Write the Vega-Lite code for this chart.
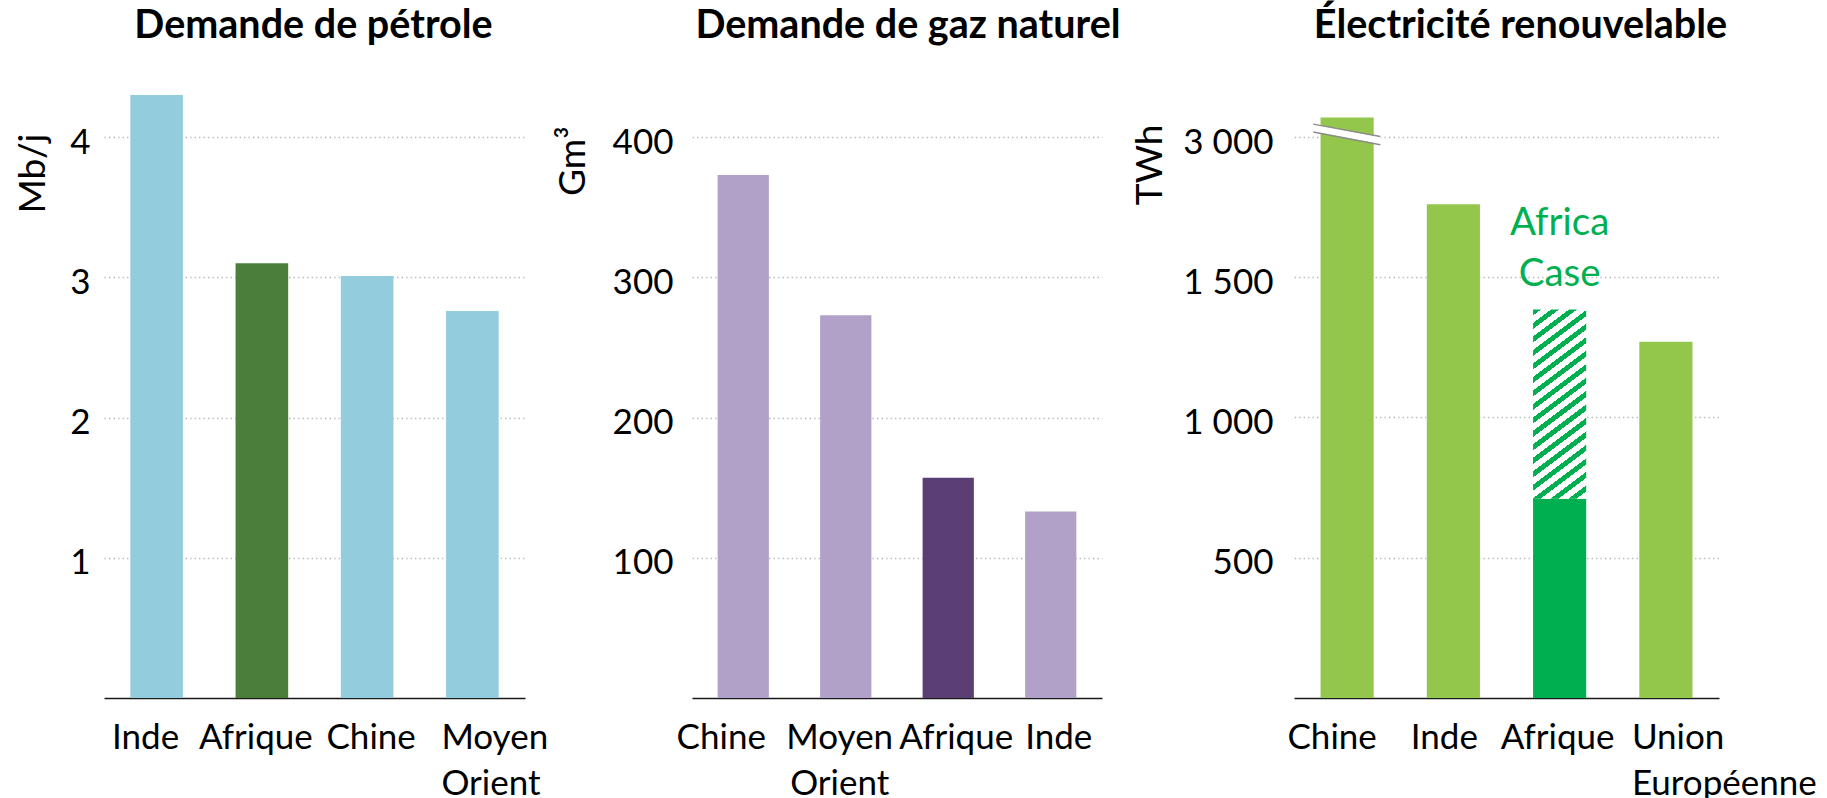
{
  "$schema": "https://vega.github.io/schema/vega-lite/v6.json",
  "padding": {"left": 14, "top": 5, "right": 0, "bottom": 0},
  "background": "white",
  "bounds": "flush",
  "spacing": 167,
  "config": {
    "view": {"stroke": null},
    "font": "Lato",
    "title": {"font": "Lato", "fontSize": 39.5, "fontWeight": "bold", "color": "#000000", "baseline": "alphabetic", "offset": 42, "anchor": "middle"},
    "axis": {"labelFont": "Lato", "titleFont": "Lato", "labelColor": "#000000", "titleColor": "#000000", "labelFontSize": 35, "titleFontSize": 37, "titleFontWeight": "normal", "ticks": false, "tickSize": 0, "labelOverlap": false, "labelFlush": false, "labelBound": false, "labelLimit": 0},
    "axisX": {"domain": true, "domainColor": "#1a1a1a", "domainWidth": 1.5, "grid": false, "labelAngle": 0, "labelBaseline": "alphabetic", "labelPadding": 50, "labelLineHeight": 46},
    "axisY": {"domain": false, "grid": true, "gridColor": "#BFBFBF", "gridDash": [1.5, 3], "gridWidth": 1.5, "labelBaseline": "alphabetic", "labelOffset": 16, "labelAlign": "right", "titleAlign": "right", "titleBaseline": "alphabetic", "titleAngle": 270}
  },
  "hconcat": [
    {
      "width": 421,
      "height": 610,
      "title": {"text": "Demande de pétrole", "dx": -1},
      "data": {"values": [
        {"pays": "Inde", "valeur": 4.30},
        {"pays": "Afrique", "valeur": 3.10},
        {"pays": "Chine", "valeur": 3.01},
        {"pays": "Moyen Orient", "valeur": 2.76}
      ]},
      "mark": {"type": "bar"},
      "encoding": {
        "x": {"field": "pays", "type": "nominal", "sort": null, "title": null,
          "scale": {"paddingInner": 0.5, "paddingOuter": 0.25},
          "axis": {"labelExpr": "split(datum.label, ' ')",
            "labelOffset": {"condition": [
              {"test": "datum.value === 'Inde'", "value": -11},
              {"test": "datum.value === 'Afrique'", "value": -6},
              {"test": "datum.value === 'Chine'", "value": 4}], "value": -31},
            "labelAlign": {"condition": {"test": "datum.value === 'Moyen Orient'", "value": "left"}, "value": "center"}}},
        "y": {"field": "valeur", "type": "quantitative", "title": "Mb/j",
          "scale": {"domain": [0, 4.35], "nice": false},
          "axis": {"values": [1, 2, 3, 4], "labelPadding": 14, "titleX": -60, "titleY": 45}},
        "color": {"condition": {"test": "datum.pays === 'Afrique'", "value": "#4B7E3B"}, "value": "#93CDDD"}
      }
    },
    {
      "bounds": "flush",
      "spacing": 192,
      "hconcat": [
        {
          "width": 410,
          "height": 610,
          "title": {"text": "Demande de gaz naturel", "dx": 11},
          "data": {"values": [
            {"pays": "Chine", "valeur": 373},
            {"pays": "Moyen Orient", "valeur": 273},
            {"pays": "Afrique", "valeur": 157},
            {"pays": "Inde", "valeur": 133}
          ]},
          "mark": {"type": "bar"},
          "encoding": {
            "x": {"field": "pays", "type": "nominal", "sort": null, "title": null,
              "scale": {"paddingInner": 0.5, "paddingOuter": 0.25},
              "axis": {"labelExpr": "split(datum.label, ' ')",
                "labelOffset": {"condition": [
                  {"test": "datum.value === 'Chine'", "value": -22},
                  {"test": "datum.value === 'Moyen Orient'", "value": -6}], "value": 8}}},
            "y": {"field": "valeur", "type": "quantitative", "title": "Gm³",
              "scale": {"domain": [0, 435], "nice": false},
              "axis": {"values": [100, 200, 300, 400], "labelPadding": 19, "titleX": -108, "titleY": 38}},
            "color": {"condition": {"test": "datum.pays === 'Afrique'", "value": "#5A3E74"}, "value": "#B1A0C7"}
          }
        },
        {
          "width": 425,
          "height": 610,
          "title": {"text": "Électricité renouvelable", "dx": 14},
          "data": {"values": [
            {"pays": "Chine", "debut": 0, "fin": 3070, "scenario": "Stated Policies", "note": ""},
            {"pays": "Inde", "debut": 0, "fin": 1760, "scenario": "Stated Policies", "note": ""},
            {"pays": "Afrique", "debut": 0, "fin": 710, "scenario": "Stated Policies", "note": ""},
            {"pays": "Afrique", "debut": 710, "fin": 1385, "scenario": "Africa Case", "note": "Africa\nCase"},
            {"pays": "Union Européenne", "debut": 0, "fin": 1270, "scenario": "Stated Policies", "note": ""}
          ]},
          "layer": [
            {
              "transform": [{"filter": "datum.scenario !== 'Africa Case'"}],
              "mark": {"type": "bar"},
              "encoding": {
                "x": {"field": "pays", "type": "nominal", "title": null,
                  "scale": {"domain": ["Chine", "Inde", "Afrique", "Union Européenne"], "paddingInner": 0.5, "paddingOuter": 0.25},
                  "axis": {"labelExpr": "split(datum.label, ' ')",
                    "labelOffset": {"condition": [
                      {"test": "datum.value === 'Chine'", "value": -15},
                      {"test": "datum.value === 'Inde'", "value": -9},
                      {"test": "datum.value === 'Afrique'", "value": -2}], "value": -34},
                    "labelAlign": {"condition": {"test": "datum.value === 'Union Européenne'", "value": "left"}, "value": "center"}}},
                "y": {"field": "fin", "type": "quantitative", "title": "TWh",
                  "scale": {"type": "linear", "domain": [0, 1900, 3000, 3300], "range": [610, 77, 49, -35], "nice": false, "zero": false},
                  "axis": {"values": [500, 1000, 1500, 3000], "labelExpr": "replace(format(datum.value, ','), ',', ' ')", "labelPadding": 21, "titleX": -133, "titleY": 36}},
                "y2": {"field": "debut"},
                "color": {"condition": {"test": "datum.pays === 'Afrique'", "value": "#00B050"}, "value": "#92C74B"}
              }
            },
            {
              "transform": [{"filter": "datum.scenario === 'Africa Case'"}],
              "mark": {"type": "bar", "color": {"gradient": "linear", "x1": 0, "y1": 0, "x2": 0.2439, "y2": 1.1591, "stops": [
                {"offset": 0, "color": "#00B050"}, {"offset": 0.0265, "color": "#00B050"}, {"offset": 0.0265, "color": "#FFFFFF"}, {"offset": 0.0588, "color": "#FFFFFF"},
                {"offset": 0.0588, "color": "#00B050"}, {"offset": 0.0853, "color": "#00B050"}, {"offset": 0.0853, "color": "#FFFFFF"}, {"offset": 0.1176, "color": "#FFFFFF"},
                {"offset": 0.1176, "color": "#00B050"}, {"offset": 0.1441, "color": "#00B050"}, {"offset": 0.1441, "color": "#FFFFFF"}, {"offset": 0.1765, "color": "#FFFFFF"},
                {"offset": 0.1765, "color": "#00B050"}, {"offset": 0.2029, "color": "#00B050"}, {"offset": 0.2029, "color": "#FFFFFF"}, {"offset": 0.2353, "color": "#FFFFFF"},
                {"offset": 0.2353, "color": "#00B050"}, {"offset": 0.2618, "color": "#00B050"}, {"offset": 0.2618, "color": "#FFFFFF"}, {"offset": 0.2941, "color": "#FFFFFF"},
                {"offset": 0.2941, "color": "#00B050"}, {"offset": 0.3206, "color": "#00B050"}, {"offset": 0.3206, "color": "#FFFFFF"}, {"offset": 0.3529, "color": "#FFFFFF"},
                {"offset": 0.3529, "color": "#00B050"}, {"offset": 0.3794, "color": "#00B050"}, {"offset": 0.3794, "color": "#FFFFFF"}, {"offset": 0.4118, "color": "#FFFFFF"},
                {"offset": 0.4118, "color": "#00B050"}, {"offset": 0.4382, "color": "#00B050"}, {"offset": 0.4382, "color": "#FFFFFF"}, {"offset": 0.4706, "color": "#FFFFFF"},
                {"offset": 0.4706, "color": "#00B050"}, {"offset": 0.4971, "color": "#00B050"}, {"offset": 0.4971, "color": "#FFFFFF"}, {"offset": 0.5294, "color": "#FFFFFF"},
                {"offset": 0.5294, "color": "#00B050"}, {"offset": 0.5559, "color": "#00B050"}, {"offset": 0.5559, "color": "#FFFFFF"}, {"offset": 0.5882, "color": "#FFFFFF"},
                {"offset": 0.5882, "color": "#00B050"}, {"offset": 0.6147, "color": "#00B050"}, {"offset": 0.6147, "color": "#FFFFFF"}, {"offset": 0.6471, "color": "#FFFFFF"},
                {"offset": 0.6471, "color": "#00B050"}, {"offset": 0.6735, "color": "#00B050"}, {"offset": 0.6735, "color": "#FFFFFF"}, {"offset": 0.7059, "color": "#FFFFFF"},
                {"offset": 0.7059, "color": "#00B050"}, {"offset": 0.7324, "color": "#00B050"}, {"offset": 0.7324, "color": "#FFFFFF"}, {"offset": 0.7647, "color": "#FFFFFF"},
                {"offset": 0.7647, "color": "#00B050"}, {"offset": 0.7912, "color": "#00B050"}, {"offset": 0.7912, "color": "#FFFFFF"}, {"offset": 0.8235, "color": "#FFFFFF"},
                {"offset": 0.8235, "color": "#00B050"}, {"offset": 0.85, "color": "#00B050"}, {"offset": 0.85, "color": "#FFFFFF"}, {"offset": 0.8824, "color": "#FFFFFF"},
                {"offset": 0.8824, "color": "#00B050"}, {"offset": 0.9088, "color": "#00B050"}, {"offset": 0.9088, "color": "#FFFFFF"}, {"offset": 0.9412, "color": "#FFFFFF"},
                {"offset": 0.9412, "color": "#00B050"}, {"offset": 0.9676, "color": "#00B050"}, {"offset": 0.9676, "color": "#FFFFFF"}, {"offset": 1, "color": "#FFFFFF"}
              ]}},
              "encoding": {
                "x": {"field": "pays", "type": "nominal", "title": null},
                "y": {"field": "fin", "type": "quantitative", "title": "TWh"},
                "y2": {"field": "debut"}
              }
            },
            {
              "transform": [{"filter": "datum.scenario === 'Africa Case'"}],
              "mark": {"type": "text", "lineBreak": "\n", "font": "Lato", "fontSize": 38.5, "color": "#00B050", "align": "center", "baseline": "alphabetic", "dy": -74, "lineHeight": 51},
              "encoding": {
                "x": {"field": "pays", "type": "nominal", "title": null},
                "y": {"field": "fin", "type": "quantitative", "title": "TWh"},
                "text": {"field": "note"}
              }
            },
            {
              "data": {"values": [
                {"pays": "Chine", "gauche": 3032, "droite": 2863, "trait": "fond"}
              ]},
              "mark": {"type": "rule", "color": "#FFFFFF", "strokeWidth": 7},
              "encoding": {
                "x": {"field": "pays", "type": "nominal", "bandPosition": -0.137, "title": null},
                "x2": {"field": "pays", "bandPosition": 1.124},
                "y": {"field": "gauche", "type": "quantitative", "title": "TWh"},
                "y2": {"field": "droite"}
              }
            },
            {
              "data": {"values": [
                {"pays": "Chine", "gauche": 3046, "droite": 3002, "trait": "haut"},
                {"pays": "Chine", "gauche": 3018, "droite": 2699, "trait": "bas"}
              ]},
              "mark": {"type": "rule", "color": "#8C8C8C", "strokeWidth": 1.5},
              "encoding": {
                "x": {"field": "pays", "type": "nominal", "bandPosition": -0.137, "title": null},
                "x2": {"field": "pays", "bandPosition": 1.124},
                "y": {"field": "gauche", "type": "quantitative", "title": "TWh"},
                "y2": {"field": "droite"}
              }
            }
          ]
        }
      ]
    }
  ]
}
